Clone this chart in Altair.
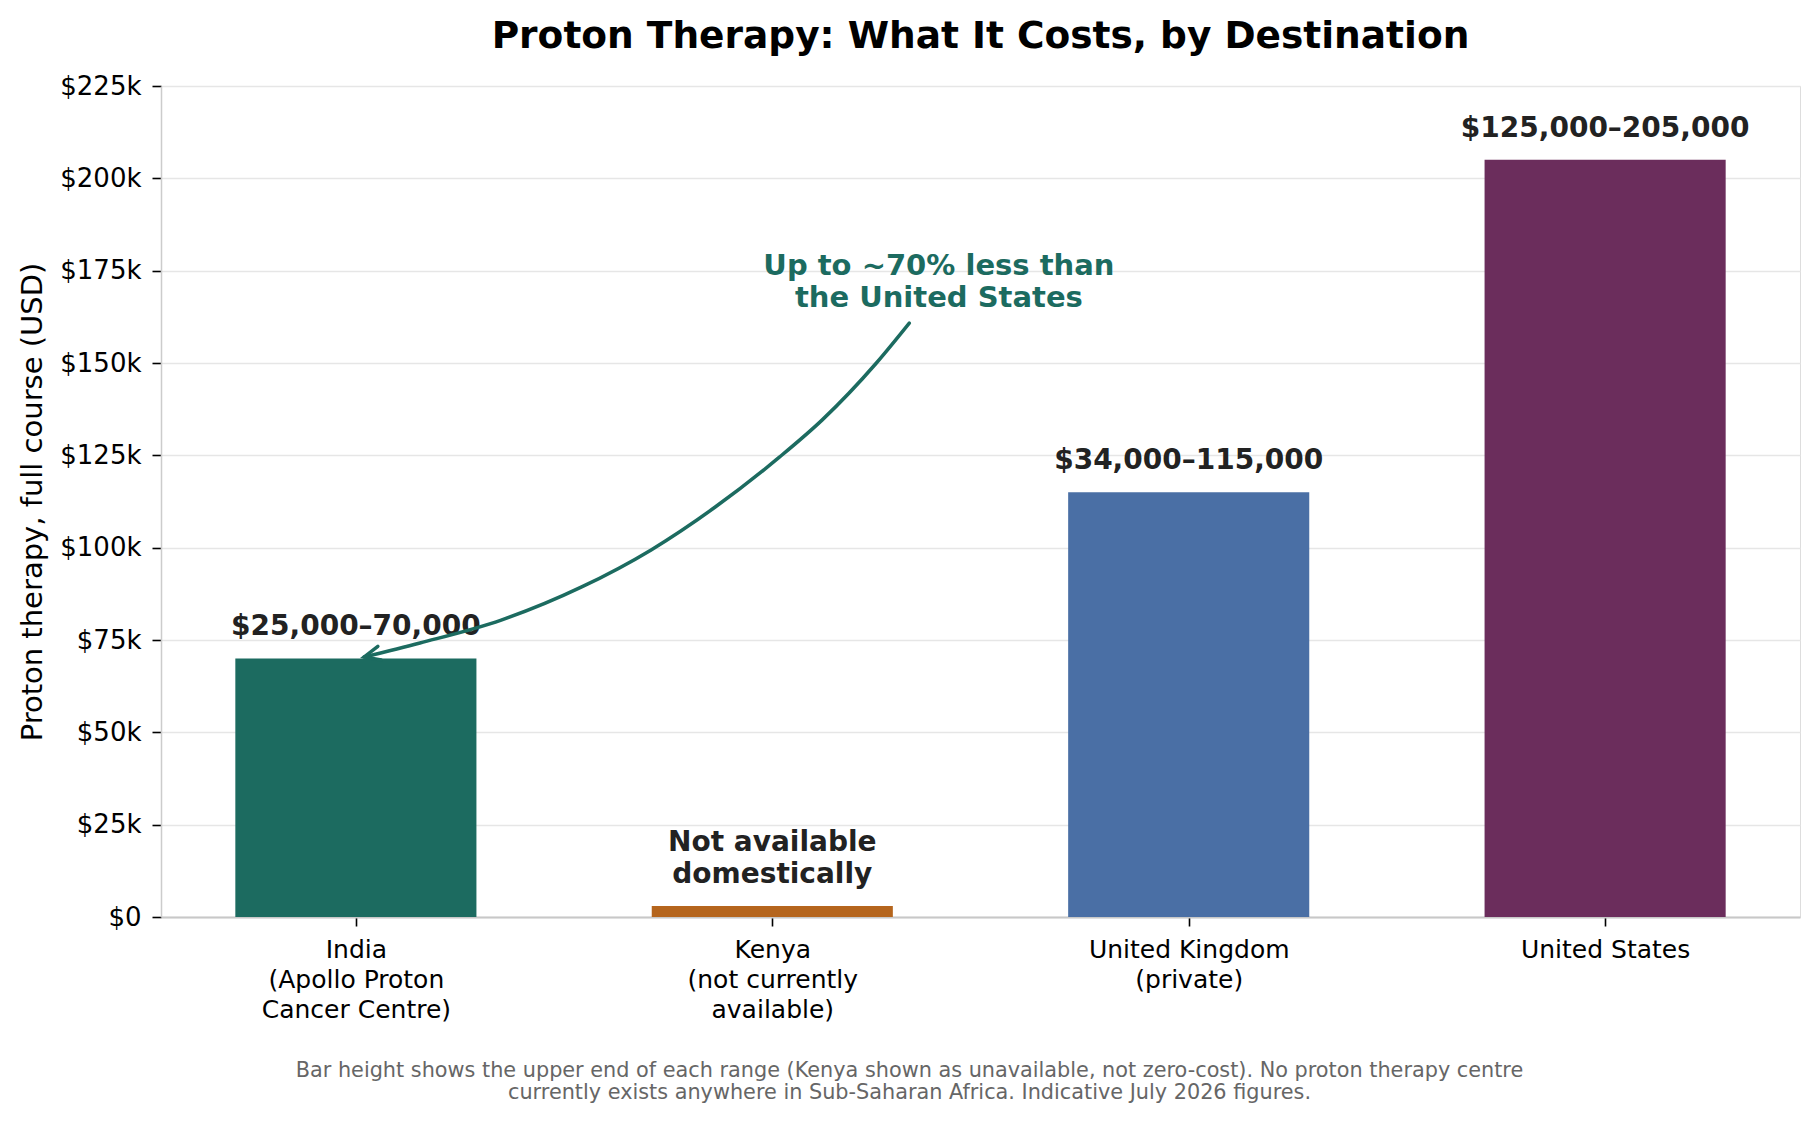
import json
import altair as alt
import pandas as pd

# ---------------- data ----------------
countries = ["India", "Kenya", "United Kingdom", "United States"]
tick_lines = [
    ["India", "(Apollo Proton", "Cancer Centre)"],
    ["Kenya", "(not currently", "available)"],
    ["United Kingdom", "(private)"],
    ["United States"],
]
upper_cost = [70000, 3000, 115000, 205000]
range_labels = [
    "$25,000\u201370,000",
    "Not available\ndomestically",
    "$34,000\u2013115,000",
    "$125,000\u2013205,000",
]
bar_colors = ["#1c6b60", "#b5651d", "#4a6fa5", "#6b2d5c"]

# curved annotation arrow (data units)
arrow_x = [1.329, 1.250, 1.120, 1.017, 0.863, 0.709, 0.541, 0.349, 0.154, 0.020]
arrow_y = [160800, 150000, 134600, 124500, 111000, 99400, 89300, 80400, 74200, 70400]
note_text = "Up to ~70% less than\nthe United States"
note_x = [1.40]
note_y = [172000]

title_text = "Proton Therapy: What It Costs, by Destination"
y_title = "Proton therapy, full course (USD)"
footer_lines = [
    "Bar height shows the upper end of each range (Kenya shown as unavailable, not zero-cost). No proton therapy centre",
    "currently exists anywhere in Sub-Saharan Africa. Indicative July 2026 figures.",
]

# ---------------- tables ----------------
bars = pd.DataFrame({
    "idx": list(range(len(countries))),
    "country": countries,
    "cost": upper_cost,
    "label": range_labels,
})
arrow = pd.DataFrame({"x": arrow_x, "y": arrow_y})
tip = arrow.iloc[[-1]]
note = pd.DataFrame({"x": note_x, "y": note_y, "t": [note_text]})

FONT = "DejaVu Sans"
TEAL = "#1c6b60"
HALF = 0.2895

xscale = alt.Scale(domain=[-0.468, 3.468], nice=False, zero=False)
yscale = alt.Scale(domain=[0, 225000], nice=False)

label_expr = json.dumps(tick_lines) + "[round(datum.value)]"

x_axis = alt.Axis(
    values=[0, 1, 2, 3],
    labelExpr=label_expr,
    labelFontSize=25,
    labelFont=FONT,
    labelColor="#000000",
    labelLineHeight=30,
    labelPadding=11,
    labelAlign="center",
    labelBaseline="top",
    labelLimit=600,
    labelOverlap=False,
    tickSize=9,
    tickColor="#000000",
    tickWidth=1.6,
    domainColor="#c8c8c8",
    domainWidth=2,
    grid=False,
    title=footer_lines,
    titleFont=FONT,
    titleFontSize=20.8,
    titleFontWeight="normal",
    titleColor="#666666",
    titleLineHeight=22.5,
    titleX=748,
    titleY=159,
    titleAlign="center",
    titleBaseline="alphabetic",
    titleLimit=2000,
)
y_axis = alt.Axis(
    values=list(range(0, 225001, 25000)),
    labelExpr="datum.value == 0 ? '$0' : '$' + format(datum.value / 1000, 'd') + 'k'",
    labelFontSize=26,
    labelFont=FONT,
    labelColor="#000000",
    labelPadding=11,
    tickSize=9,
    tickColor="#000000",
    tickWidth=1.6,
    domainColor="#cccccc",
    domainWidth=1.5,
    grid=True,
    gridColor="#e6e6e6",
    gridWidth=1.5,
    title=y_title,
    titleFont=FONT,
    titleFontSize=29,
    titleFontWeight="normal",
    titleColor="#000000",
    titleAngle=270,
    titleX=-129,
    titleY=415.5,
    titleAlign="center",
    titleBaseline="middle",
    titleLimit=2000,
)

base = alt.Chart(bars)

bar_layer = base.transform_calculate(
    x0=f"datum.idx - {HALF}", x1=f"datum.idx + {HALF}"
).mark_bar().encode(
    x=alt.X("x0:Q", scale=xscale, axis=x_axis),
    x2="x1:Q",
    y=alt.Y("cost:Q", scale=yscale, axis=y_axis),
    y2=alt.datum(0),
    color=alt.Color("country:N", scale=alt.Scale(domain=countries, range=bar_colors), legend=None),
)

label_style = dict(
    font=FONT, fontSize=28, fontWeight="bold", color="#222222",
    baseline="bottom", lineBreak="\n", lineHeight=32, align="center",
)

label_single = base.transform_filter(
    "indexof(datum.label, '\\n') < 0"
).mark_text(dy=-17, **label_style).encode(
    x=alt.X("idx:Q", scale=xscale),
    y=alt.Y("cost:Q", scale=yscale),
    text="label:N",
)

label_double = base.transform_filter(
    "indexof(datum.label, '\\n') >= 0"
).mark_text(dy=-49, **label_style).encode(
    x=alt.X("idx:Q", scale=xscale),
    y=alt.Y("cost:Q", scale=yscale),
    text="label:N",
)

arrow_layer = alt.Chart(arrow).mark_line(
    color=TEAL, strokeWidth=3.5, interpolate="monotone", strokeCap="round"
).encode(
    x=alt.X("x:Q", scale=xscale),
    y=alt.Y("y:Q", scale=yscale),
)

head_layer = alt.Chart(tip).mark_point(
    shape="M -1 -0.445 L 0 0 L -1 0.445",
    size=1000, angle=166, filled=False, stroke=TEAL, strokeWidth=3.5,
    opacity=1, strokeCap="round", strokeJoin="miter",
).encode(
    x=alt.X("x:Q", scale=xscale),
    y=alt.Y("y:Q", scale=yscale),
)

note_layer = alt.Chart(note).mark_text(
    font=FONT, fontSize=29, fontWeight="bold", color=TEAL,
    baseline="middle", lineBreak="\n", lineHeight=32.5, align="center", dy=-16,
).encode(
    x=alt.X("x:Q", scale=xscale),
    y=alt.Y("y:Q", scale=yscale),
    text="t:N",
)

chart = alt.layer(
    bar_layer, label_single, label_double, arrow_layer, head_layer, note_layer
).properties(
    width=1639,
    height=831,
    title=alt.Title(
        title_text, font=FONT, fontSize=37.5, fontWeight="bold", color="#000000",
        anchor="middle", frame="group", baseline="alphabetic", offset=-12,
    ),
    autosize="none",
    padding={"left": 153, "top": 78, "right": 5, "bottom": 190},
).configure_view(stroke=None).configure(background="white")

chart.save("out.html", embed_options={"renderer": "svg", "actions": False})
